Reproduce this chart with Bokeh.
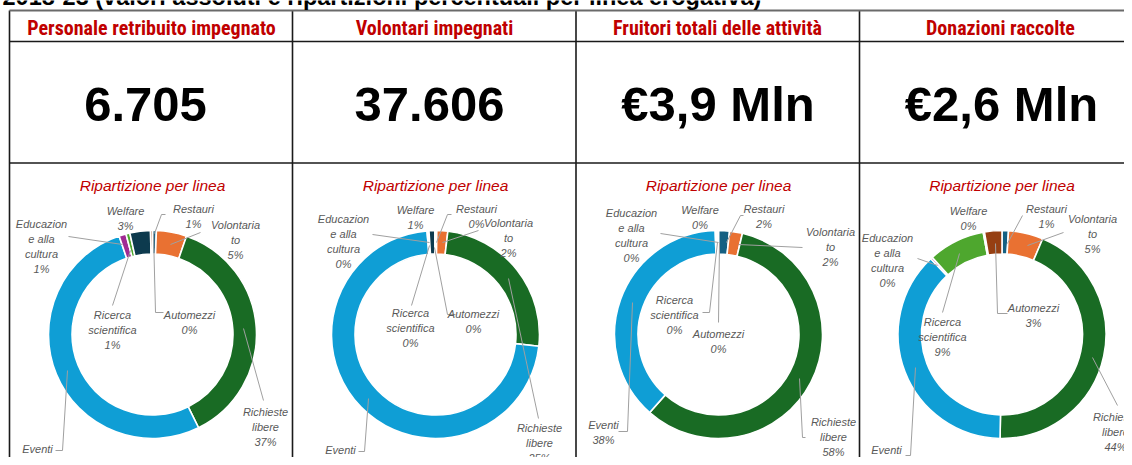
import math
from bokeh.plotting import figure
from bokeh.models import Range1d, ColumnDataSource
from bokeh.core.properties import value
from bokeh.embed import file_html
from bokeh.resources import INLINE

# ---------------- data ----------------
page_title = "2018-23 (valori assoluti e ripartizioni percentuali per linea erogativa)"
categories = ["Restauri", "Volontariato", "Richieste libere", "Eventi",
              "Educazione alla cultura", "Ricerca scientifica", "Welfare", "Automezzi"]
headers = ["Personale retribuito impegnato", "Volontari impegnati",
           "Fruitori totali delle attività", "Donazioni raccolte"]
totals = ["6.705", "37.606", "€3,9 Mln", "€2,6 Mln"]
chart_title = "Ripartizione per linea"

share_personale = [0.6, 4.7, 37.4, 52.1, 1.1, 0.6, 3.2, 0.3]
share_volontari = [0.2, 1.7, 24.9, 71.9, 0.2, 0.1, 0.9, 0.1]
share_fruitori = [1.7, 2.0, 57.8, 38.0, 0.2, 0.1, 0.1, 0.1]
share_donazioni = [1.0, 5.4, 43.9, 37.7, 0.3, 8.8, 0.2, 2.7]
shares = [share_personale, share_volontari, share_fruitori, share_donazioni]

# ---------------- styles ----------------
colors = ["#156082", "#E97132", "#196B24", "#0F9ED5",
          "#A02B93", "#4EA72E", "#0D3A4E", "#963F12"]
label_names = {"Restauri": "Restauri", "Volontariato": "Volontaria\nto",
               "Richieste libere": "Richieste\nlibere", "Eventi": "Eventi",
               "Educazione alla cultura": "Educazion\ne alla\ncultura",
               "Ricerca scientifica": "Ricerca\nscientifica",
               "Welfare": "Welfare", "Automezzi": "Automezzi"}
RED = "#C00000"
GREY_TXT = "#595959"
LEADER = "#A0A0A0"

W, H = 1124, 457
def Y(ry):               # reference pixel row -> data y
    return H - ry

col_edges = [9, 292, 575.5, 859, 1142]
row_edges = [10, 41, 162.5]
header_x = [151, 434, 717, 1000]
total_x = [145, 429, 717.5, 1001]
donut_cx = [152, 435, 718, 1001.5]
donut_cy = 334
R_OUT, R_IN = 104, 80.5

# label block centres (reference pixels), per chart, per category
label_pos = [
    [(193, 215.5), (235, 239.5), (265, 426), (37, 456), (41, 245.5), (112, 329.5), (125, 217.5), (189, 321.5)],
    [(476, 215.5), (508, 237), (539, 442.5), (340, 457), (343, 241), (410, 327), (415, 217), (473, 321)],
    [(763.5, 215.5), (830, 246.5), (833, 436.5), (603, 431.5), (631, 234.5), (674, 314.5), (699.5, 217), (718, 340.5)],
    [(1046, 215.5), (1092, 233), (1115, 431), (886, 457), (887, 259.5), (942, 336.5), (968, 217.5), (1033, 314.5)],
]
# leader lines (reference pixels)
leaders = [
    [[(165, 214), (161, 214), (154, 233)], [(200, 232), (170, 244)], [(263, 400), (243, 328)],
     [(55, 450), (62, 450), (67, 370)], [(68, 236), (122, 244)], [(112, 305), (130, 250)],
     [(163, 312), (155, 312), (153, 233)]],
    [[(451, 214), (447, 214), (436, 242)], [(478, 230), (442, 242)], [(538, 418), (508, 278)],
     [(358, 451), (364, 451), (368, 398)], [(372, 234), (429, 242)], [(411, 305), (429, 245)],
     [(455, 314), (447, 314), (434, 247)]],
    [[(743, 215), (740, 215), (726, 242)], [(802, 247), (738, 244)], [(805, 437), (802, 437), (799, 378)],
     [(618, 431), (627, 431), (632, 302)], [(660, 233), (718, 242)], [(702, 312), (709, 312), (717, 242)],
     [(718, 322), (719, 242)]],
    [[(1022, 215), (1007, 243)], [(1063, 232), (1027, 245)], [(1117, 405), (1092, 357)],
     [(905, 455), (910, 455), (915, 367)], [(917, 258), (937, 265)], [(942, 312), (959, 253)],
     [(1007, 313), (997, 313), (995, 243)]],
]

p = figure(width=W, height=H, x_range=Range1d(0, W), y_range=Range1d(0, H),
           output_backend="svg", toolbar_location=None, min_border=0)
p.axis.visible = False
p.grid.visible = False
p.outline_line_color = None
p.background_fill_color = "white"
p.border_fill_color = "white"

# ---------------- donuts ----------------
for ci, vals in enumerate(shares):
    tot = sum(vals)
    starts, ends, fills = [], [], []
    cum = 0.0
    for v, c in zip(vals, colors):
        a = cum / tot
        b = (cum + v) / tot
        cum += v
        starts.append(math.pi / 2 - 2 * math.pi * b)
        ends.append(math.pi / 2 - 2 * math.pi * a)
        fills.append(c)
    src = ColumnDataSource(dict(x=[donut_cx[ci]] * len(vals), y=[Y(donut_cy)] * len(vals),
                                s=starts, e=ends, c=fills))
    p.annular_wedge(x="x", y="y", inner_radius=R_IN, outer_radius=R_OUT,
                    start_angle="s", end_angle="e", fill_color="c",
                    line_color="white", line_width=1.6, source=src)

# leader lines
xs, ys = [], []
for chart in leaders:
    for line in chart:
        xs.append([pt[0] for pt in line])
        ys.append([Y(pt[1]) for pt in line])
p.multi_line(xs=xs, ys=ys, line_color=LEADER, line_width=1)

# data labels
lx, ly, lt = [], [], []
for ci, vals in enumerate(shares):
    tot = sum(vals)
    for k, cat in enumerate(categories):
        pct = round(vals[k] / tot * 100)
        lx.append(label_pos[ci][k][0])
        ly.append(Y(label_pos[ci][k][1]))
        lt.append(f"{label_names[cat]}\n{pct}%")
p.text(x=lx, y=ly, text=lt, text_align="center", text_baseline="middle",
       text_font=value("Liberation Sans"), text_font_style="italic",
       text_font_size="11px", text_color=GREY_TXT, text_line_height=1.25)

# chart titles
p.text(x=donut_cx, y=[Y(184.5)] * 4, text=[chart_title] * 4, text_align="center",
       text_baseline="middle", text_font=value("Liberation Sans"),
       text_font_style="italic", text_font_size="15.5px", text_color=RED)

# ---------------- table ----------------
p.segment(x0=col_edges[:4], y0=[Y(row_edges[0])] * 4, x1=col_edges[:4], y1=[Y(470)] * 4,
          line_color="#1a1a1a", line_width=1.6)
p.segment(x0=[col_edges[0]], y0=[Y(row_edges[0])], x1=[1140], y1=[Y(row_edges[0])],
          line_color="#6a6a6a", line_width=2)
p.segment(x0=[col_edges[0]] * 2, y0=[Y(r) for r in row_edges[1:]], x1=[1140] * 2,
          y1=[Y(r) for r in row_edges[1:]], line_color="#1a1a1a", line_width=1.6)

p.text(x=header_x, y=[Y(27.5)] * 4, text=headers, text_align="center",
       text_baseline="middle",
       text_font=value("'Liberation Sans Narrow', 'Roboto Condensed', 'DejaVu Sans Condensed', sans-serif"),
       text_font_style="bold", text_font_size="20px", text_color=RED)

p.text(x=total_x, y=[Y(103.5)] * 4, text=totals, text_align="center",
       text_baseline="middle", text_font=value("Liberation Sans"),
       text_font_style="bold", text_font_size="49px", text_color="black")

# page title (only its lower half is inside the picture)
p.text(x=[2], y=[Y(-3.5)], text=[page_title], text_align="left",
       text_baseline="middle", text_font=value("Liberation Sans"),
       text_font_style="bold", text_font_size="23.5px", text_color="black")

open("out.html", "w").write(file_html(p, INLINE))
